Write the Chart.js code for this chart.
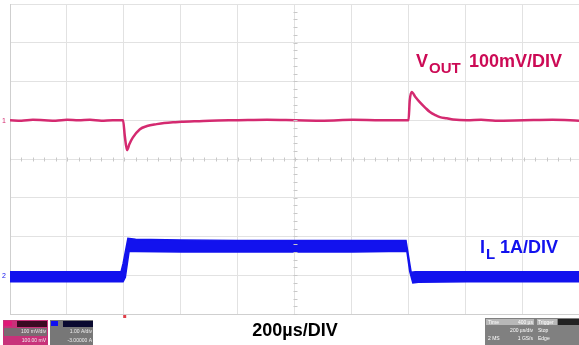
<!DOCTYPE html>
<html>
<head>
<meta charset="utf-8">
<script src="https://cdn.jsdelivr.net/npm/chart.js@4"></script>
<style>
  body { margin: 0; background: #fff; }
  #wrap { width: 579px; height: 345px; }
</style>
</head>
<body>
<div id="wrap"><canvas id="scope" width="579" height="345"></canvas></div>
<script>
// scope settings
var timePerDiv = 200;      // us/div
var voutPerDiv = 100;      // mV/div
var voutPosDiv = 1;        // channel 1 position (div)
var ilPerDiv = 1;          // A/div
var ilOffset = -3;         // A, channel 2 offset

// VOUT deviation (mV) vs time (us)
var voutTime = [0, 40, 80, 120, 160, 200, 240, 280, 320, 360, 396, 402, 410, 418, 430, 455, 480, 514, 540, 571, 600, 630, 700, 800, 900, 1000, 1100, 1200, 1300, 1396, 1400, 1407, 1420, 1436, 1455, 1471, 1490, 1506, 1530, 1552, 1601, 1650, 1700, 1800, 1900, 1993];
var voutMv = [0, -1, 1, 0, -1, 1, 0, 1, -1, 0, 0, -40, -77, -62, -45, -23, -15, -10, -7, -5, -4, -3, -1, 0, 1, 0, -1, 1, 0, 0, 50, 73, 60, 46, 32, 21, 13, 8, 5, 2, 0, 1, -1, 0, 1, -1];

// IL ripple envelope (A) vs time (us)
var ilTopTime = [0, 200, 389, 396, 413, 440, 600, 800, 1000, 1200, 1387, 1405, 1420, 1600, 1800, 1993];
var ilTop = [0.09, 0.09, 0.09, 0.3, 0.95, 0.93, 0.91, 0.9, 0.9, 0.9, 0.9, 0.08, 0.09, 0.09, 0.09, 0.09];
var ilBotTime = [0, 200, 396, 404, 417, 440, 600, 800, 1000, 1200, 1390, 1400, 1411, 1430, 1600, 1800, 1993];
var ilBot = [-0.17, -0.17, -0.17, -0.05, 0.61, 0.61, 0.6, 0.6, 0.6, 0.6, 0.62, 0.1, -0.2, -0.18, -0.17, -0.17, -0.17];

function pts(t, v, toDiv) {
    var out = [];
    for (var i = 0; i < t.length; i++)
        out.push({ x: t[i], y: toDiv(v[i]) });
    return out;
}
var voutDiv = function (mv) { return voutPosDiv + mv / voutPerDiv; };
var ilDiv = function (a) { return a / ilPerDiv + ilOffset; };

var magenta = "#d42a70";
var blue = "#1212ee";

var overlay = {
    id: "overlay",
    afterDraw: function (chart) {
        var ctx = chart.ctx;
        var xs = chart.scales.x, ys = chart.scales.y;
        var a = chart.chartArea;
        ctx.save();

        // minor ticks on the centre lines
        ctx.strokeStyle = "#c8c8c8";
        ctx.lineWidth = 1;
        var cy = Math.round(ys.getPixelForValue(0)) + 0.5;
        var cx = Math.round(xs.getPixelForValue(1000)) + 0.5;
        ctx.beginPath();
        for (var t = 0; t <= 2000; t += timePerDiv / 5) {
            var px = Math.round(xs.getPixelForValue(t)) + 0.5;
            ctx.moveTo(px, cy - 2); ctx.lineTo(px, cy + 2);
        }
        for (var d = -4; d <= 4; d += 0.2) {
            var py = Math.round(ys.getPixelForValue(d)) + 0.5;
            ctx.moveTo(cx - 2, py); ctx.lineTo(cx + 2, py);
        }
        ctx.stroke();

        // channel markers at the left edge
        ctx.font = "7px Arial";
        ctx.fillStyle = magenta;
        ctx.fillText("1", 2, ys.getPixelForValue(voutPosDiv) + 3);
        ctx.fillStyle = blue;
        ctx.fillText("2", 2, ys.getPixelForValue(ilOffset) + 3);
        // trigger marker
        ctx.fillStyle = "#e0404a";
        ctx.fillRect(xs.getPixelForValue(400) - 1, a.bottom + 1, 3, 3);

        // labels
        ctx.textBaseline = "alphabetic";
        ctx.fillStyle = "#cc0a55";
        ctx.font = "bold 18px Arial";
        ctx.fillText("V", 416, 67);
        ctx.font = "bold 15px Arial";
        ctx.fillText("OUT", 429, 73);
        ctx.font = "bold 18px Arial";
        ctx.fillText("100mV/DIV", 469, 67);

        ctx.fillStyle = blue;
        ctx.fillText("I", 480, 253);
        ctx.font = "bold 15px Arial";
        ctx.fillText("L", 486, 259);
        ctx.font = "bold 18px Arial";
        ctx.fillText("1A/DIV", 500, 253);

        ctx.fillStyle = "#000";
        ctx.textAlign = "center";
        ctx.fillText("200\u00b5s/DIV", 295, 336);
        ctx.textAlign = "left";

        // channel info boxes (bottom left)
        ctx.fillStyle = "#c8327a"; ctx.fillRect(3, 320, 45, 25);
        ctx.fillStyle = "#e01878"; ctx.fillRect(4, 321, 8, 5);
        ctx.fillStyle = "#3a0a22"; ctx.fillRect(17, 321, 30, 6);
        ctx.fillStyle = "#7a6a72"; ctx.fillRect(4, 328, 43, 8);
        ctx.fillStyle = "#777"; ctx.fillRect(50, 320, 43, 25);
        ctx.fillStyle = "#1010f0"; ctx.fillRect(51, 321, 7, 5);
        ctx.fillStyle = "#0a0a30"; ctx.fillRect(63, 321, 30, 6);
        ctx.font = "5px Arial";
        ctx.fillStyle = "#eee";
        ctx.textAlign = "right";
        ctx.fillText("100 mV/div", 46, 333);
        ctx.fillText("100.00 mV", 46, 342);
        ctx.fillText("1.00 A/div", 92, 333);
        ctx.fillText("-3.00000 A", 92, 342);

        // timebase / trigger boxes (bottom right)
        ctx.fillStyle = "#808080"; ctx.fillRect(485, 318, 94, 27);
        ctx.fillStyle = "#b8b8b8"; ctx.fillRect(486, 319, 48, 6);
        ctx.fillStyle = "#b8b8b8"; ctx.fillRect(537, 319, 20, 6);
        ctx.fillStyle = "#222"; ctx.fillRect(558, 319, 21, 6);
        ctx.fillStyle = "#fff";
        ctx.textAlign = "left";
        ctx.fillText("Time", 488, 324);
        ctx.fillText("Trigger", 538, 324);
        ctx.fillText("2 MS", 488, 340);
        ctx.fillText("Stop", 538, 332);
        ctx.fillText("Edge", 538, 340);
        ctx.textAlign = "right";
        ctx.fillText("400 \u00b5s", 533, 324);
        ctx.fillText("200 \u00b5s/div", 533, 332);
        ctx.fillText("1 GS/s", 533, 340);
        ctx.restore();
    }
};

new Chart("scope", {
    type: "line",
    data: {
        datasets: [{
            data: pts(ilTopTime, ilTop, ilDiv),
            borderColor: blue,
            borderWidth: 1.5,
            pointRadius: 0,
            tension: 0
        }, {
            data: pts(ilBotTime, ilBot, ilDiv),
            borderColor: blue,
            borderWidth: 1.5,
            backgroundColor: blue,
            fill: "-1",
            pointRadius: 0,
            tension: 0
        }, {
            data: pts(voutTime, voutMv, voutDiv),
            borderColor: magenta,
            borderWidth: 2.5,
            pointRadius: 0,
            cubicInterpolationMode: "monotone"
        }]
    },
    options: {
        responsive: false,
        animation: false,
        layout: { padding: { left: 10, top: 4, right: 0, bottom: 31 } },
        plugins: { legend: { display: false }, tooltip: { enabled: false } },
        scales: {
            x: {
                type: "linear",
                min: 0,
                max: 1993,
                ticks: { display: false, stepSize: timePerDiv },
                grid: { color: "#e2e2e2", drawTicks: false },
                border: { color: "#cfcfcf" }
            },
            y: {
                min: -4,
                max: 4,
                ticks: { display: false, stepSize: 1 },
                grid: { color: "#e2e2e2", drawTicks: false },
                border: { color: "#cfcfcf" }
            }
        }
    },
    plugins: [overlay]
});
</script>
</body>
</html>
